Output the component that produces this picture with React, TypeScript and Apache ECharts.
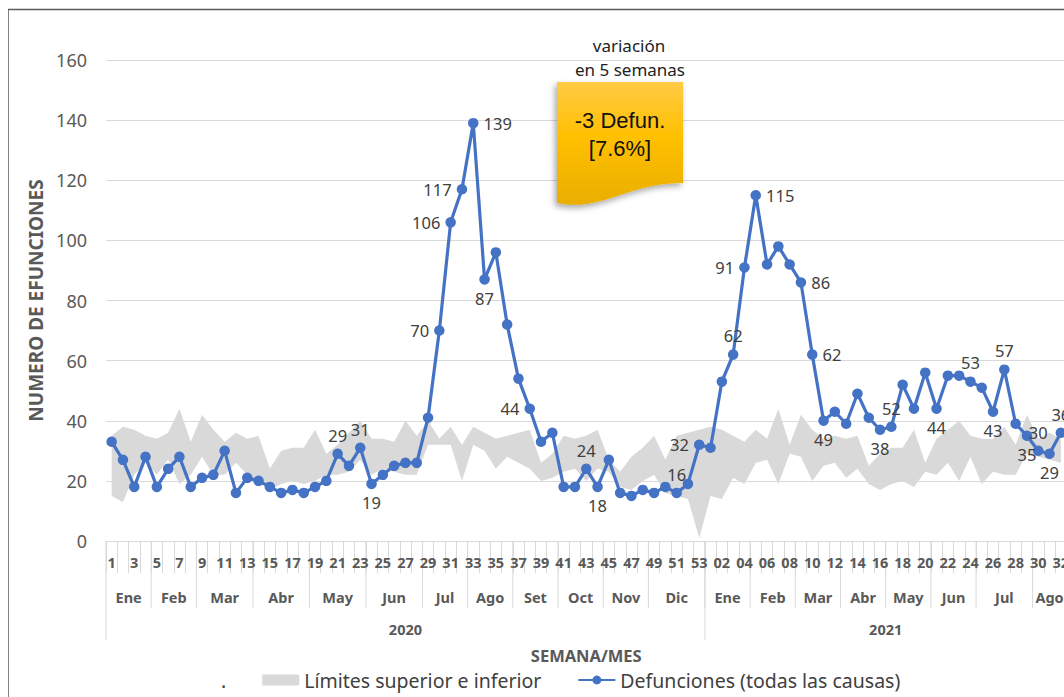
import React, { useEffect, useRef } from "react";
import * as echarts from "echarts";

const weeks2020 = ["1","2","3","4","5","6","7","8","9","10","11","12","13","14","15","16","17","18","19","20","21","22","23","24","25","26","27","28","29","30","31","32","33","34","35","36","37","38","39","40","41","42","43","44","45","46","47","48","49","50","51","52","53"];
const weeks2021 = ["01","02","03","04","05","06","07","08","09","10","11","12","13","14","15","16","17","18","19","20","21","22","23","24","25","26","27","28","29","30","31","32"];

const deaths2020 = [33,27,18,28,18,24,28,18,21,22,30,16,21,20,18,16,17,16,18,20,29,25,31,19,22,25,26,26,41,70,106,117,139,87,96,72,54,44,33,36,18,18,24,18,27,16,15,17,16,18,16,19,32];
const deaths2021 = [31,53,62,91,115,92,98,92,86,62,40,43,39,49,41,37,38,52,44,56,44,55,55,53,51,43,57,39,35,30,29,36];

const upper2020 = [35,38,37,35,34,36,44,33,42,37,33,36,34,35,24,30,31,31,37,29,32,36,40,34,34,33,40,35,40,34,38,32,38,36,34,35,36,37,26,29,35,34,35,37,27,23,28,31,35,27,35,36,37];
const lower2020 = [15,13,22,26,22,27,19,22,28,22,22,26,22,20,17,19,20,19,20,22,22,23,27,22,24,23,22,22,32,32,32,20,32,30,24,28,26,24,20,21,23,24,20,24,23,18,17,20,22,16,15,14,1];
const upper2021 = [38,37,35,33,37,34,44,32,42,37,34,35,34,35,25,29,31,31,37,26,34,37,40,35,34,34,38,32,42,34,36,34];
const lower2021 = [15,14,21,19,26,27,19,29,28,20,25,26,21,24,19,17,19,20,18,23,22,26,20,28,19,23,22,22,29,28,27,26];

const monthNames2020 = ["Ene","Feb","Mar","Abr","May","Jun","Jul","Ago","Set","Oct","Nov","Dic"];
const monthWeeks2020 = [4,4,5,5,5,5,4,4,4,4,4,5];
const monthNames2021 = ["Ene","Feb","Mar","Abr","May","Jun","Jul","Ago"];
const monthWeeks2021 = [4,4,4,4,4,4,5,3];
const years = ["2020","2021"];

const labelIndex = [20,22,23,29,30,31,32,33,37,42,43,50,52,55,56,57,61,62,63,68,69,73,76,78,79,81,82,83,84];
const labelText = ["29","31","19","70","106","117","139","87","44","24","18","16","32","62","91","115","86","62","49","38","52","44","53","43","57","35","30","29","36"];

const labelPlace: [string, number, number][] = [
  ["top",-4,0],["top",6,0],["bottom",0,0],["left",0,0],["left",0,0],["left",3,-12],["right",0,-10],["bottom",-7,0],["left",-3,12],
  ["top",0,0],["bottom",8,0],["top",-5,3],["left",4,-12],["top",-9,8],["left",0,0],["right",0,-7],["right",0,-15],["right",0,0],
  ["bottom",-4,16],["bottom",-5,1],["top",-2,8],["bottom",0,0],["top",7,9],["bottom",3,-4],["top",2,9],["bottom",0,0],["top",0,-4],["bottom",10,-2],["top",4,-4]
];

echarts.graphic.registerShape(
  "note",
  echarts.graphic.extendPath("M0 0 L126 0 L126 101 C100 101 85 106 63 113 C42 120 25 126 0 121 Z", {})
);

const FONT = "Noto Sans";

export default function App() {
  const ref = useRef<HTMLDivElement>(null);
  useEffect(() => {
    if (!ref.current) return;
    const chart = echarts.init(ref.current, undefined, { renderer: "svg" });
    const categories = [...weeks2020, ...weeks2021];
    const deaths = [...deaths2020, ...deaths2021];
    const upper = [...upper2020, ...upper2021];
    const lower = [...lower2020, ...lower2021];
    const band = upper.map((u, i) => u - lower[i]);
    const deathData: any[] = deaths.map((v) => ({ value: v }));
    labelIndex.forEach((idx, j) => {
      const [pos, dx, dy] = labelPlace[j];
      deathData[idx] = {
        value: deaths[idx],
        label: { show: true, position: pos, offset: [dx, dy], formatter: labelText[j] },
      };
    });

    const option: any = {
      animation: false,
      grid: { left: 98, right: 11.5, top: 52, bottom: 156 },
      legend: {
        left: 166,
        top: 657,
        itemWidth: 37,
        itemHeight: 11,
        itemGap: 36,
        textStyle: { fontFamily: FONT, fontSize: 19.5, color: "#404040" },
        data: [
          { name: ".", icon: "rect" },
          { name: "Límites superior e inferior", icon: "rect" },
          { name: "Defunciones (todas las causas)" },
        ],
      },
      xAxis: {
        type: "category",
        data: categories,
        boundaryGap: true,
        axisLine: { lineStyle: { color: "#d9d9d9", width: 1 } },
        axisTick: { show: true, interval: 0, length: 32, lineStyle: { color: "#d9d9d9" } },
        axisLabel: { interval: 1, fontFamily: FONT, fontWeight: "bold", fontSize: 14.5, color: "#595959", margin: 13 },
        name: "SEMANA/MES",
        nameLocation: "middle",
        nameGap: 106,
        nameTextStyle: { fontFamily: FONT, fontWeight: "bold", fontSize: 16.5, color: "#595959" },
      },
      yAxis: {
        type: "value",
        min: 0,
        max: 160,
        interval: 20,
        axisLine: { show: false },
        axisTick: { show: false },
        splitLine: { lineStyle: { color: "#d9d9d9", width: 1 } },
        axisLabel: { fontFamily: FONT, fontSize: 18, color: "#595959", margin: 19 },
        name: "NUMERO DE EFUNCIONES",
        nameLocation: "middle",
        nameGap: 56,
        nameTextStyle: { fontFamily: FONT, fontWeight: "bold", fontSize: 19, color: "#595959" },
      },
      series: [
        {
          name: ".",
          type: "line",
          stack: "band",
          data: lower,
          symbol: "none",
          lineStyle: { width: 0, opacity: 0 },
          itemStyle: { color: "rgba(0,0,0,0)" },
          silent: true,
          z: 1,
        },
        {
          name: "Límites superior e inferior",
          type: "line",
          stack: "band",
          data: band,
          symbol: "none",
          lineStyle: { width: 0, opacity: 0 },
          itemStyle: { color: "#d9d9d9" },
          areaStyle: { color: "#d9d9d9", opacity: 1 },
          silent: true,
          z: 1,
        },
        {
          name: "Defunciones (todas las causas)",
          type: "line",
          data: deathData,
          symbol: "circle",
          symbolSize: 10.5,
          showAllSymbol: true,
          lineStyle: { color: "#4472c4", width: 3.2 },
          itemStyle: { color: "#4472c4" },
          label: { fontFamily: FONT, fontSize: 16.5, color: "#404040" },
          labelLayout: { hideOverlap: false },
          z: 3,
        },
      ],
    };
    chart.setOption(option);

    const xAt = (i: number) => chart.convertToPixel({ xAxisIndex: 0 }, i) as number;
    const step = xAt(1) - xAt(0);
    const x0 = xAt(0) - step / 2;
    const y0 = chart.convertToPixel({ yAxisIndex: 0 }, 0) as number;
    const axisEls: any[] = [];
    const labStyle = { fontFamily: FONT, fontWeight: "bold", fontSize: 14.5, fill: "#595959", align: "center", verticalAlign: "middle" };
    const addMonths = (names: string[], counts: number[], start: number) => {
      let s = start;
      names.forEach((n, i) => {
        const c = counts[i];
        axisEls.push({ type: "text", x: x0 + (s + c / 2) * step, y: y0 + 56, style: { ...labStyle, text: n } });
        s += c;
        axisEls.push({ type: "line", shape: { x1: x0 + s * step, y1: y0, x2: x0 + s * step, y2: y0 + 67 }, style: { stroke: "#d9d9d9", lineWidth: 1 } });
      });
      return s;
    };
    const end2020 = addMonths(monthNames2020, monthWeeks2020, 0);
    const end2021 = addMonths(monthNames2021, monthWeeks2021, end2020);
    [0, end2020, end2021].forEach((b) => {
      axisEls.push({ type: "line", shape: { x1: x0 + b * step, y1: y0, x2: x0 + b * step, y2: y0 + 99 }, style: { stroke: "#d9d9d9", lineWidth: 1 } });
    });
    axisEls.push({ type: "text", x: x0 + (end2020 / 2) * step, y: y0 + 88, style: { ...labStyle, text: years[0] } });
    axisEls.push({ type: "text", x: x0 + ((end2020 + end2021) / 2) * step, y: y0 + 88, style: { ...labStyle, text: years[1] } });

    const staticEls: any[] = [
      { type: "rect", shape: { x: 0, y: 1.5, width: 1200, height: 900 }, style: { fill: "none", stroke: "#5a5a5a", lineWidth: 1.5 }, silent: true },
      { type: "text", x: 621, y: 37, style: { text: "variación", fontFamily: FONT, fontSize: 17, fill: "#222", align: "center", verticalAlign: "middle" } },
      { type: "text", x: 622, y: 61, style: { text: "en 5 semanas", fontFamily: FONT, fontSize: 17, fill: "#222", align: "center", verticalAlign: "middle" } },
      {
        type: "note",
        x: 549,
        y: 74,
        z: 10,
        style: {
          fill: new echarts.graphic.LinearGradient(0, 0, 0, 1, [
            { offset: 0, color: "#ffca45" },
            { offset: 0.45, color: "#ffc000" },
            { offset: 1, color: "#e9ae00" },
          ]),
          shadowBlur: 6,
          shadowOffsetX: -2,
          shadowOffsetY: 3,
          shadowColor: "rgba(0,0,0,0.35)",
        },
      },
      { type: "text", x: 612, y: 112, z: 11, style: { text: "-3 Defun.", fontFamily: "Liberation Sans", fontSize: 22, fill: "#111", align: "center", verticalAlign: "middle" } },
      { type: "text", x: 612, y: 140, z: 11, style: { text: "[7.6%]", fontFamily: "Liberation Sans", fontSize: 22, fill: "#111", align: "center", verticalAlign: "middle" } },
    ];
    chart.setOption({ graphic: { elements: [...staticEls, ...axisEls] } });

    return () => chart.dispose();
  }, []);
  return (
    <div style={{ position: "fixed", left: 0, top: 0, width: "100vw", height: "100vh", overflow: "hidden", background: "#fff" }}>
      <div ref={ref} style={{ position: "absolute", left: 8, top: 8, width: 1070, height: 689 }} />
    </div>
  );
}
